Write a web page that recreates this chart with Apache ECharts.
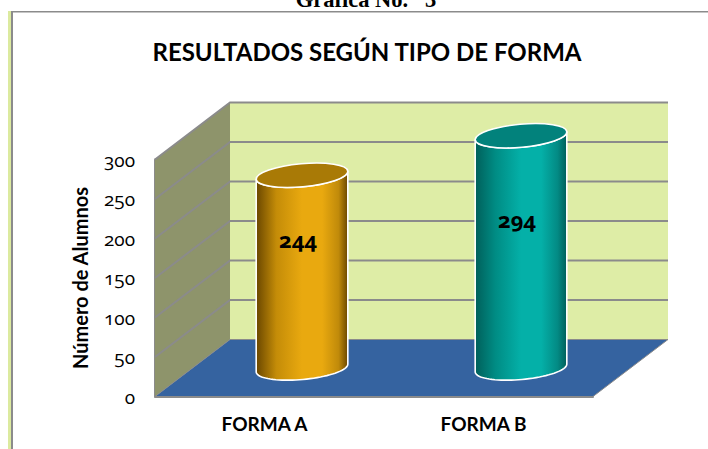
<!DOCTYPE html>
<html><head><meta charset="utf-8">
<style>
html,body{margin:0;padding:0;background:#fff;overflow:hidden}
#c{width:708px;height:449px;font-feature-settings:"onum" 1}
#c text{font-feature-settings:"onum" 1}
</style>
<script src="https://cdn.jsdelivr.net/npm/echarts@6/dist/echarts.min.js"></script>
</head><body><div id="c"></div>
<script>
const categories = ['FORMA A', 'FORMA B'];
const values = [244, 294];
const yTicks = [0, 50, 100, 150, 200, 250, 300];
const bodyEdge = ['#6a4700', '#005f5a'];
const bodyMid = ['#e9a90f', '#04b0a8'];
const capColor = ['#a97a06', '#02827c'];

const DX = 75, DY = -57, RX = 46, RY = 11.5, TILT = 0.09;
const GRID = '#8b8b8b';
const chart = echarts.init(document.getElementById('c'), null, {renderer: 'svg'});

function ellipsePt(cx, cy, t) {
  const x = RX * Math.cos(t), y = RY * Math.sin(t);
  const c = Math.cos(TILT), s = Math.sin(TILT);
  return [cx + x * c + y * s, cy - x * s + y * c];
}

function renderWalls(params) {
  const g = params.coordSys, L = g.x, R = g.x + g.width, T = g.y, B = g.y + g.height;
  return {type: 'group', children: [
    {type: 'rect', shape: {x: L + DX, y: T + DY, width: g.width, height: g.height}, style: {fill: '#deeda6'}},
    {type: 'polygon', shape: {points: [[L, B], [L + DX, B + DY], [L + DX, T + DY], [L, T]]}, style: {fill: '#8e946b'}},
    {type: 'polygon', shape: {points: [[L, B], [R, B], [R + DX, B + DY], [L + DX, B + DY]]}, style: {fill: '#3563a0', stroke: GRID, lineWidth: 1}}
  ]};
}
function renderGrid(params, api) {
  const g = params.coordSys, L = g.x, R = g.x + g.width;
  const y = api.coord([0, api.value(1)])[1];
  const style = {stroke: GRID, lineWidth: 2, fill: 'none'};
  if (api.value(1) === 0) return {type: 'group', children: []};
  return {type: 'polyline', shape: {points: [[L, y], [L + DX, y + DY], [R + DX, y + DY]]}, style};
}
function renderCyl(params, api) {
  const i = api.value(0), v = api.value(1);
  const top = api.coord([i, v]), base = api.coord([i, 0]);
  const cx = top[0] + DX / 2, cyT = top[1] + DY / 2, cyB = base[1] + DY / 2;
  const pts = [];
  for (let k = 0; k <= 40; k++) pts.push(ellipsePt(cx, cyB, Math.PI * k / 40));
  pts.push(ellipsePt(cx, cyT, Math.PI));
  for (let k = 39; k >= 1; k--) pts.push(ellipsePt(cx, cyT, Math.PI * k / 40));
  pts.push(ellipsePt(cx, cyT, 0));
  const edge = bodyEdge[i], mid = bodyMid[i];
  return {type: 'group', children: [
    {type: 'polygon', shape: {points: pts}, style: {
      stroke: '#fff', lineWidth: 1.6,
      fill: {type: 'linear', x: 0, y: 0, x2: 1, y2: 0, colorStops: [
        {offset: 0, color: edge}, {offset: 0.22, color: i ? '#008c84' : '#c48c08'},
        {offset: 0.5, color: mid}, {offset: 0.72, color: mid},
        {offset: 0.9, color: i ? '#038a84' : '#c08a0a'}, {offset: 1, color: edge}]}
    }},
    {type: 'ellipse', x: cx, y: cyT, rotation: TILT, shape: {cx: 0, cy: 0, rx: RX, ry: RY},
      style: {fill: capColor[i], stroke: '#fff', lineWidth: 1.6}},
    {type: 'text', x: cx - 4, y: (cyT + cyB) / 2 - 33, style: {
      text: String(v), fill: '#000', fontFamily: 'Open Sans', fontWeight: 'bold', fontSize: 22,
      textAlign: 'center', textVerticalAlign: 'middle'}}
  ]};
}

chart.setOption({
  animation: false,
  backgroundColor: '#fff',
  grid: {left: 155, top: 159.5, width: 438, height: 237},
  xAxis: {type: 'category', data: categories,
    axisLine: {show: true, lineStyle: {color: GRID, width: 2}}, axisTick: {show: false},
    axisLabel: {margin: 17, color: '#000', fontFamily: 'Lato', fontWeight: 'bold', fontSize: 19}},
  yAxis: {type: 'value', min: 0, max: 300, interval: 50,
    name: 'Número de Alumnos', nameLocation: 'middle', nameGap: 65, nameRotate: 90,
    nameTextStyle: {color: '#000', fontFamily: 'Lato', fontWeight: 'bold', fontSize: 20},
    axisLine: {show: true, lineStyle: {color: GRID, width: 2}}, axisTick: {show: false}, splitLine: {show: false},
    axisLabel: {margin: 20, color: '#000', fontFamily: 'Open Sans', fontSize: 19}},
  graphic: [
    {type: 'rect', shape: {x: 8, y: 11, width: 3, height: 438}, style: {fill: '#dcea9f'}},
    {type: 'rect', shape: {x: 11, y: 11, width: 2, height: 438}, style: {fill: '#8b8b8b'}},
    {type: 'rect', shape: {x: 11, y: 11, width: 697, height: 1.5}, style: {fill: '#8b8b8b'}},
    {type: 'text', x: 367, y: 51, style: {text: 'RESULTADOS SEGÚN TIPO DE FORMA', fill: '#000', fontFamily: 'Lato',
      fontWeight: 'bold', fontSize: 24, textAlign: 'center', textVerticalAlign: 'middle'}},
    {type: 'text', x: 366, y: -1, style: {text: 'Gráfica No.   3', fill: '#000', fontFamily: 'Liberation Serif',
      fontWeight: 'bold', fontSize: 22.5, textAlign: 'center', textVerticalAlign: 'middle'}}
  ],
  series: [
    {type: 'custom', data: [[0, 0]], z: 1, silent: true, renderItem: renderWalls},
    {type: 'custom', data: yTicks.map(t => [0, t]), z: 2, silent: true, renderItem: renderGrid},
    {type: 'custom', data: categories.map((c, i) => [i, values[i]]), z: 3, renderItem: renderCyl}
  ]
});
</script></body></html>
